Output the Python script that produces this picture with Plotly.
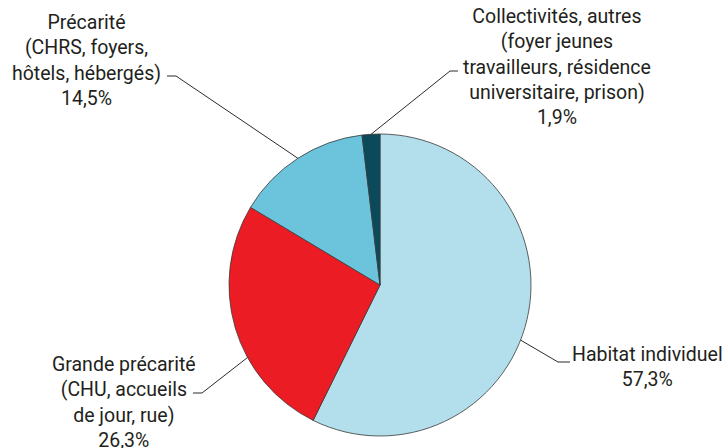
import numpy as np
import plotly.graph_objects as go

# données du graphique
categories = [
    "Habitat individuel",
    "Grande précarité<br>(CHU, accueils<br>de jour, rue)",
    "Précarité<br>(CHRS, foyers,<br>hôtels, hébergés)",
    "Collectivités, autres<br>(foyer jeunes<br>travailleurs, résidence<br>universitaire, prison)",
]
values = [57.3, 26.3, 14.5, 1.9]
value_labels = ["57,3%", "26,3%", "14,5%", "1,9%"]
colors = ["#b3deeb", "#ec1c24", "#6bc4dc", "#0b4a5b"]

W, H = 723, 448
cx, cy, r = 380, 285, 151  # centre et rayon du camembert (pixels)

fig = go.Figure()

fig.add_trace(go.Pie(
    values=values,
    labels=[c.split("<br>")[0] for c in categories],
    sort=False, direction="clockwise", rotation=0,
    marker=dict(colors=colors, line=dict(color="#3a3a3a", width=0.8)),
    textinfo="none", hoverinfo="label+percent",
    showlegend=False,
    domain=dict(x=[(cx - r) / W, (cx + r) / W],
                y=[(H - cy - r) / H, (H - cy + r) / H]),
))

# position du départ des traits dans chaque part (fraction de la part)
pos_in_slice = [0.54, 0.37, 0.5, 0.5]
elbows = [(558, 362), (202, 393), (176, 76), (450, 71)]
ends = [(570, 362), (193, 393), (167, 76), (458, 71)]
text_pos = [(647, 367), (124, 402), (86, 60), (557, 67)]

total = sum(values)
cum = np.cumsum([0] + values[:-1]) / total
for i in range(len(values)):
    frac = cum[i] + pos_in_slice[i] * values[i] / total
    theta = 2 * np.pi * frac
    px, py = cx + r * np.sin(theta), cy - r * np.cos(theta)
    (ex, ey), (tx, ty) = elbows[i], ends[i]
    fig.add_shape(type="path",
                  path=f"M {px:.1f},{py:.1f} L {ex},{ey} L {tx},{ty}",
                  xref="x", yref="y",
                  line=dict(color="#2b2b2b", width=1))
    fig.add_annotation(x=text_pos[i][0], y=text_pos[i][1], xref="x", yref="y",
                       text=categories[i] + "<br>" + value_labels[i],
                       showarrow=False, align="center",
                       xanchor="center", yanchor="middle",
                       font=dict(size=19.5, color="#231f20"))

fig.update_layout(
    width=W, height=H,
    margin=dict(l=0, r=0, t=0, b=0),
    paper_bgcolor="white", plot_bgcolor="white",
    font=dict(family="Roboto, sans-serif"),
    # axes invisibles en pixels
    xaxis=dict(range=[0, W], visible=False, fixedrange=True),
    yaxis=dict(range=[H, 0], visible=False, fixedrange=True),
)

# enlève la marge par défaut de la page pour que le graphique tienne dans la fenêtre
fig.write_html("out.html", config={"displayModeBar": False},
               post_script="document.body.style.margin='0px';")
